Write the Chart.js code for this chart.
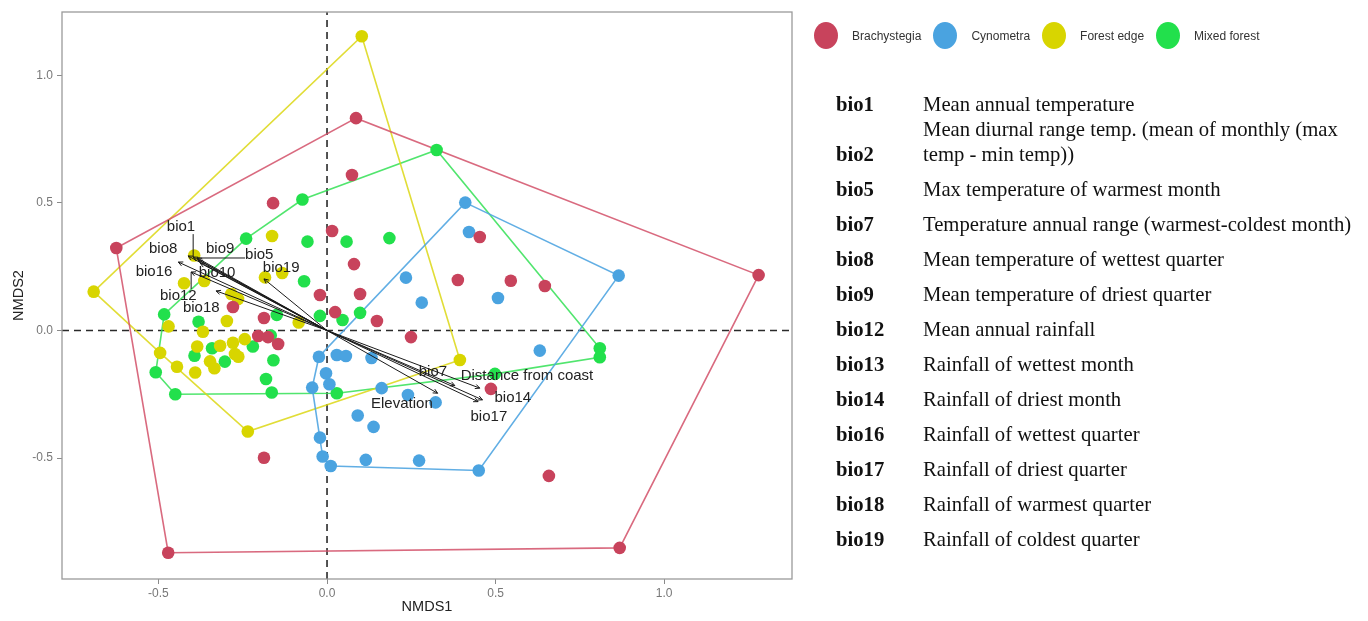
<!DOCTYPE html>
<html>
<head>
<meta charset="utf-8">
<title>NMDS ordination</title>
<script src="https://cdn.jsdelivr.net/npm/chart.js@4.4.1/dist/chart.umd.min.js"></script>
<style>
  html, body { margin: 0; padding: 0; background: #fff; }
  #wrap { position: relative; width: 1368px; height: 621px; overflow: hidden; }
  #nmds { position: absolute; left: 0; top: 0; }

  /* ── legend (top right) ── */
  #legend { position: absolute; left: 814px; top: 22px; display: flex; align-items: center;
            font: 12px "Liberation Sans", Arial, sans-serif; color: #333; }
  #legend .item { display: flex; align-items: center; margin-right: 12px; }
  #legend .dot  { width: 24px; height: 27px; border-radius: 50%; margin-right: 14px; }

  /* ── variable key ── */
  #key { position: absolute; left: 836px; top: 91.5px; font: 20.7px "Liberation Serif", "Times New Roman", serif; color: #111; }
  #key .row  { display: flex; align-items: flex-end; line-height: 25px; margin-bottom: 10px; }
  #key .row:first-child { margin-bottom: 0; }
  #key .code { width: 87px; font-weight: bold; }
  #key .desc { white-space: pre-line; }
</style>
</head>
<body>
<div id="wrap">
  <canvas id="nmds" width="1368" height="621"></canvas>
  <div id="legend"></div>
  <div id="key"></div>
</div>

<script>
/* ============================================================
   NMDS ordination — site scores, hulls and envfit vectors
   ============================================================ */

/* ── Site scores per vegetation type ── */
const brachyX = [-0.625, 0.086, 1.280, 0.868, -0.471, 0.074, -0.160, 0.015, 0.080, 0.098, -0.021, 0.024, 0.148,
                 -0.279, -0.187, -0.204, -0.175, -0.145, 0.249, 0.453, 0.388, 0.545, 0.646, 0.486, 0.658, -0.187];
const brachyY = [0.323, 0.832, 0.217, -0.852, -0.871, 0.609, 0.499, 0.390, 0.260, 0.143, 0.139, 0.072, 0.037,
                 0.092, 0.049, -0.022, -0.026, -0.053, -0.026, 0.366, 0.198, 0.195, 0.174, -0.229, -0.570, -0.499];

const cynoX = [0.410, 0.421, 0.865, 0.234, 0.281, 0.507, 0.631, 0.450, 0.273, 0.115, 0.011, -0.013, -0.021,
               -0.044, -0.024, 0.029, 0.056, 0.132, -0.003, 0.007, 0.162, 0.240, 0.322, 0.091, 0.138];
const cynoY = [0.501, 0.386, 0.215, 0.207, 0.109, 0.127, -0.079, -0.549, -0.510, -0.507, -0.531, -0.494, -0.420,
               -0.224, -0.103, -0.096, -0.100, -0.108, -0.168, -0.211, -0.226, -0.253, -0.282, -0.333, -0.378];

const edgeX = [0.103, -0.692, -0.235, 0.394, -0.163, -0.394, -0.184, -0.133, -0.424, -0.364, -0.284, -0.264, -0.297,
               -0.084, -0.470, -0.368, -0.385, -0.317, -0.279, -0.244, -0.273, -0.263, -0.495, -0.347, -0.334, -0.445, -0.391];
const edgeY = [1.153, 0.152, -0.396, -0.116, 0.370, 0.294, 0.208, 0.225, 0.185, 0.194, 0.143, 0.123, 0.037,
               0.031, 0.016, -0.005, -0.063, -0.060, -0.048, -0.034, -0.092, -0.103, -0.088, -0.121, -0.148, -0.142, -0.165];

const mixedX = [0.325, 0.809, 0.809, 0.498, 0.029, -0.450, -0.508, -0.483, -0.240, -0.073, -0.058, 0.058, 0.185,
                -0.068, -0.149, -0.021, 0.046, 0.098, -0.381, -0.167, -0.220, -0.341, -0.393, -0.303, -0.159, -0.181, -0.164];
const mixedY = [0.707, -0.070, -0.105, -0.170, -0.246, -0.250, -0.164, 0.063, 0.360, 0.513, 0.348, 0.348, 0.362,
                0.193, 0.061, 0.057, 0.041, 0.069, 0.034, -0.020, -0.063, -0.070, -0.099, -0.122, -0.117, -0.190, -0.243];

const groupNames = ['Brachystegia', 'Cynometra', 'Forest edge', 'Mixed forest'];

/* ── Fitted environmental vectors ── */
const vecNames = ['bio1', 'bio8', 'bio9', 'bio5', 'bio16', 'bio10', 'bio12', 'bio18', 'bio19',
                  'bio7', 'Distance from coast', 'Elevation', 'bio14', 'bio17'];
const vecX   = [-0.397, -0.412, -0.382, -0.385, -0.441, -0.376, -0.403, -0.329, -0.187, 0.379, 0.453, 0.328, 0.461, 0.448];
const vecY   = [0.288, 0.292, 0.276, 0.284, 0.268, 0.264, 0.229, 0.155, 0.202, -0.216, -0.226, -0.246, -0.272, -0.279];
// repelled label anchors
const labelX = [-0.433, -0.486, -0.317, -0.201, -0.513, -0.326, -0.441, -0.373, -0.136, 0.314, 0.593, 0.222, 0.551, 0.480];
const labelY = [0.405, 0.319, 0.319, 0.296, 0.229, 0.225, 0.135, 0.088, 0.245, -0.162, -0.178, -0.288, -0.264, -0.339];
const leaderLabels = ['bio1', 'bio5', 'bio12'];

/* ── Axes ── */
const xLimits = [-0.786, 1.379];
const yLimits = [-0.974, 1.248];
const xTicks  = [-0.5, 0, 0.5, 1.0];
const yTicks  = [-0.5, 0, 0.5, 1.0];

/* ── Variable key ── */
const bioCodes = ['bio1', 'bio2', 'bio5', 'bio7', 'bio8', 'bio9', 'bio12', 'bio13', 'bio14', 'bio16', 'bio17', 'bio18', 'bio19'];
const bioDescs = [
  'Mean annual temperature',
  'Mean diurnal range temp. (mean of monthly (max\ntemp - min temp))',
  'Max temperature of warmest month',
  'Temperature annual range (warmest-coldest month)',
  'Mean temperature of wettest quarter',
  'Mean temperature of driest quarter',
  'Mean annual rainfall',
  'Rainfall of wettest month',
  'Rainfall of driest month',
  'Rainfall of wettest quarter',
  'Rainfall of driest quarter',
  'Rainfall of warmest quarter',
  'Rainfall of coldest quarter',
];

const COLORS    = ['#C8435C', '#4AA3E0', '#D8D500', '#22E04C'];
const HULL_COLS = ['rgba(210,80,105,0.85)', 'rgba(80,165,225,0.9)', 'rgba(220,215,20,0.85)', 'rgba(50,225,85,0.85)'];
const SANS = '"Liberation Sans", Arial, Helvetica, sans-serif';

/* ════════════════════════════════════════════════════════
   HELPERS
════════════════════════════════════════════════════════ */

function _zip(xs, ys) { return xs.map((x, i) => ({ x, y: ys[i] })); }

/** Convex hull (monotone chain), closed for drawing */
function _hull(pts) {
  const p = pts.slice().sort((a, b) => a.x - b.x || a.y - b.y);
  const cross = (o, a, b) => (a.x - o.x) * (b.y - o.y) - (a.y - o.y) * (b.x - o.x);
  const lower = [], upper = [];
  for (const q of p) {
    while (lower.length >= 2 && cross(lower[lower.length - 2], lower[lower.length - 1], q) <= 0) lower.pop();
    lower.push(q);
  }
  for (let i = p.length - 1; i >= 0; i--) {
    const q = p[i];
    while (upper.length >= 2 && cross(upper[upper.length - 2], upper[upper.length - 1], q) <= 0) upper.pop();
    upper.push(q);
  }
  lower.pop(); upper.pop();
  const h = lower.concat(upper);
  h.push(h[0]);
  return h;
}

/* ════════════════════════════════════════════════════════
   DATASETS
════════════════════════════════════════════════════════ */

const groups = [
  _zip(brachyX, brachyY),
  _zip(cynoX, cynoY),
  _zip(edgeX, edgeY),
  _zip(mixedX, mixedY),
];

const datasets = [];

// zero reference lines
datasets.push({
  data: [{ x: 0, y: yLimits[0] }, { x: 0, y: yLimits[1] }],
  showLine: true, pointRadius: 0, borderColor: '#2a2a2a', borderWidth: 1.6, borderDash: [7, 5], order: 6,
});
datasets.push({
  data: [{ x: xLimits[0], y: 0 }, { x: xLimits[1], y: 0 }],
  showLine: true, pointRadius: 0, borderColor: '#2a2a2a', borderWidth: 1.6, borderDash: [7, 5], order: 6,
});

// hulls
groups.forEach((g, i) => {
  datasets.push({
    label: groupNames[i] + ' hull',
    data: _hull(g),
    showLine: true, pointRadius: 0, borderColor: HULL_COLS[i], borderWidth: 1.6, order: 5,
  });
});

// points
groups.forEach((g, i) => {
  datasets.push({
    label: groupNames[i],
    data: g,
    pointRadius: 6.3, pointBackgroundColor: COLORS[i], pointBorderWidth: 0, order: 4,
  });
});

// vectors
vecNames.forEach((n, i) => {
  datasets.push({
    label: n,
    data: [{ x: 0, y: 0 }, { x: vecX[i], y: vecY[i] }],
    showLine: true, pointRadius: 0, borderColor: '#1a1a1a', borderWidth: 1, order: 2,
  });
});

/* ── Arrowheads, vector labels and panel border ── */
const overlay = {
  id: 'overlay',
  afterDatasetsDraw(chart) {
    const { ctx, chartArea, scales: { x, y } } = chart;
    const ox = x.getPixelForValue(0), oy = y.getPixelForValue(0);
    ctx.save();

    // arrowheads
    ctx.strokeStyle = '#1a1a1a';
    ctx.lineWidth = 1;
    vecNames.forEach((n, i) => {
      const tx = x.getPixelForValue(vecX[i]), ty = y.getPixelForValue(vecY[i]);
      const a = Math.atan2(ty - oy, tx - ox);
      ctx.beginPath();
      ctx.moveTo(tx - 5 * Math.cos(a - 0.45), ty - 5 * Math.sin(a - 0.45));
      ctx.lineTo(tx, ty);
      ctx.lineTo(tx - 5 * Math.cos(a + 0.45), ty - 5 * Math.sin(a + 0.45));
      ctx.stroke();
    });

    // labels (+ leader segments for the repelled ones)
    ctx.font = '15px ' + SANS;
    ctx.textAlign = 'center';
    ctx.textBaseline = 'middle';
    vecNames.forEach((n, i) => {
      const lx = x.getPixelForValue(labelX[i]), ly = y.getPixelForValue(labelY[i]);
      if (leaderLabels.includes(n)) {
        const tx = x.getPixelForValue(vecX[i]), ty = y.getPixelForValue(vecY[i]);
        const w = ctx.measureText(n).width / 2, h = 7;
        const sx = Math.min(Math.max(tx, lx - w), lx + w);
        const sy = Math.min(Math.max(ty, ly - h), ly + h);
        ctx.strokeStyle = '#1a1a1a';
        ctx.beginPath(); ctx.moveTo(sx, sy); ctx.lineTo(tx, ty); ctx.stroke();
      }
      ctx.fillStyle = '#222';
      ctx.fillText(n, lx, ly);
    });

    // panel border
    ctx.strokeStyle = '#9a9a9a';
    ctx.lineWidth = 1.3;
    ctx.strokeRect(chartArea.left, chartArea.top, chartArea.width, chartArea.height);
    ctx.restore();
  },
};

new Chart(document.getElementById('nmds').getContext('2d'), {
  type: 'scatter',
  data: { datasets },
  plugins: [overlay],
  options: {
    responsive: false,
    animation: false,
    events: [],
    layout: { padding: { left: 0, top: 12, right: 576, bottom: 0 } },
    plugins: { legend: { display: false }, tooltip: { enabled: false } },
    scales: {
      x: {
        type: 'linear', min: xLimits[0], max: xLimits[1],
        afterBuildTicks: s => { s.ticks = xTicks.map(v => ({ value: v })); },
        afterFit: s => { s.height = 42; },
        grid: { drawOnChartArea: false, drawTicks: true, tickLength: 5, color: '#8a8a8a' },
        border: { display: false },
        ticks: { color: '#777', font: { size: 12, family: SANS }, padding: 2, maxRotation: 0,
                 callback: v => Number(v).toFixed(1) },
        title: { display: true, text: 'NMDS1', color: '#222', font: { size: 14.5, family: SANS },
                 padding: { top: 0, bottom: 5 } },
      },
      y: {
        type: 'linear', min: yLimits[0], max: yLimits[1],
        afterBuildTicks: s => { s.ticks = yTicks.map(v => ({ value: v })); },
        afterFit: s => { s.width = 62; },
        grid: { drawOnChartArea: false, drawTicks: true, tickLength: 5, color: '#8a8a8a' },
        border: { display: false },
        ticks: { color: '#777', font: { size: 12, family: SANS }, padding: 4,
                 callback: v => Number(v).toFixed(1) },
        title: { display: true, text: 'NMDS2', color: '#222', font: { size: 14.5, family: SANS },
                 padding: { top: 10, bottom: 0 } },
      },
    },
  },
});

/* ── HTML legend and variable key ── */
document.getElementById('legend').innerHTML = groupNames.map((n, i) =>
  `<div class="item"><div class="dot" style="background:${COLORS[i]}"></div><span>${n}</span></div>`
).join('');

document.getElementById('key').innerHTML = bioCodes.map((c, i) =>
  `<div class="row"><div class="code">${c}</div><div class="desc">${bioDescs[i]}</div></div>`
).join('');
</script>
</body>
</html>
